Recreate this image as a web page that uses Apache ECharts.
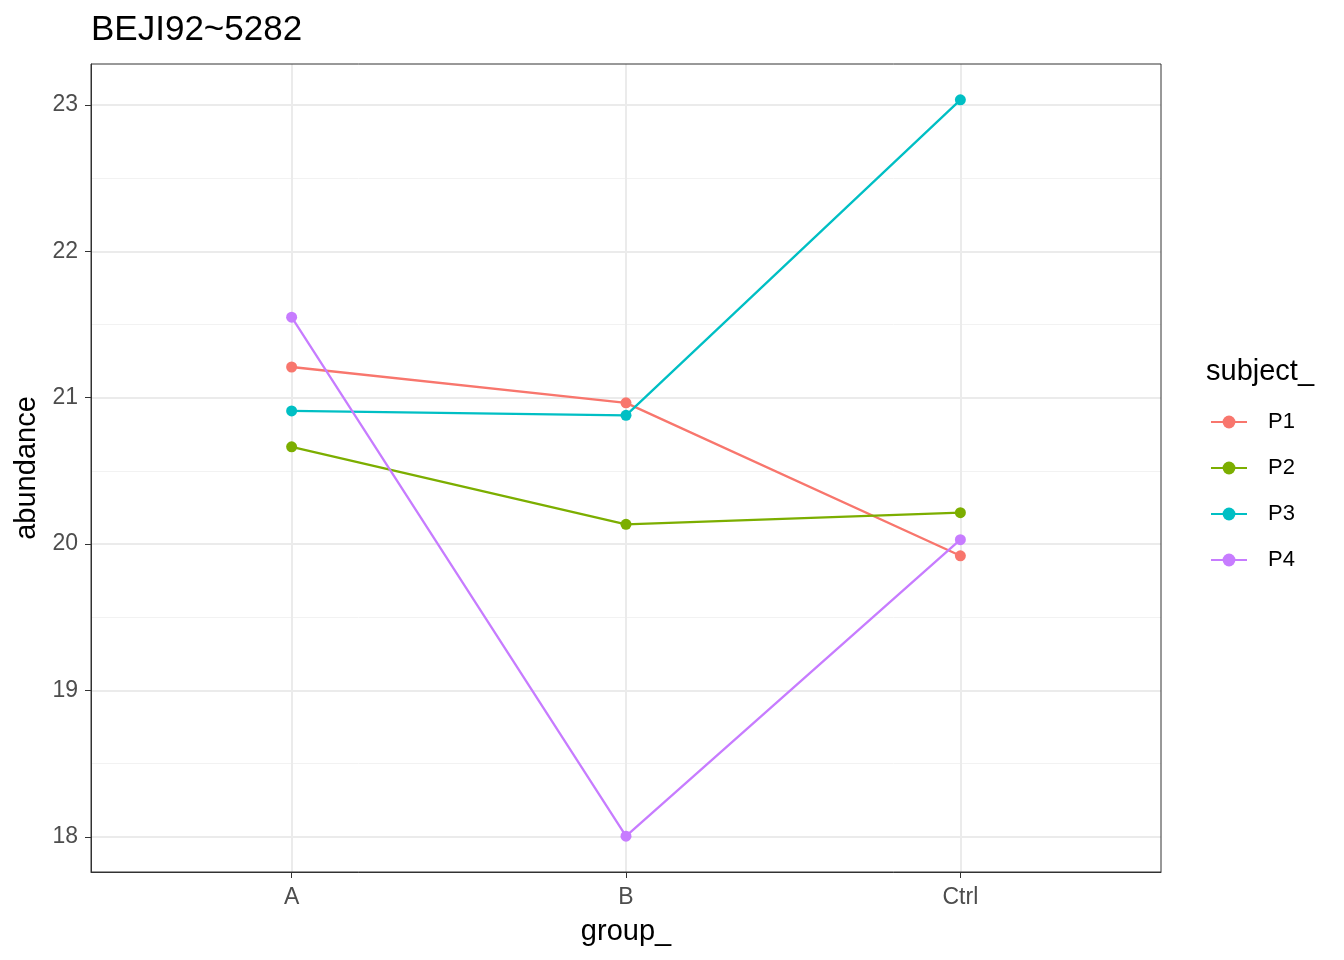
<!DOCTYPE html>
<html style="height: 100%">
<head>
  <meta charset="utf-8">
</head>
<body style="height: 100%; margin: 0; background: #fff">
  <div id="container" style="width: 1344px; height: 960px"></div>
  <script type="text/javascript" src="https://cdn.jsdelivr.net/npm/echarts/dist/echarts.min.js"></script>
  <script type="text/javascript">
    var groups = ['A', 'B', 'Ctrl'];
    var subjects = ['P1', 'P2', 'P3', 'P4'];
    var colors = ['#F8766D', '#7CAE00', '#00BFC4', '#C77CFF'];
    var p1 = [21.21, 20.965, 19.92];
    var p2 = [20.665, 20.135, 20.215];
    var p3 = [20.91, 20.88, 23.035];
    var p4 = [21.55, 18.005, 20.03];
    var yTicks = [18, 19, 20, 21, 22, 23];
    var yMinor = [18.5, 19.5, 20.5, 21.5, 22.5];

    var values = [p1, p2, p3, p4];
    var font = 'Liberation Sans, Arial, sans-serif';

    var myChart = echarts.init(document.getElementById('container'));

    var series = subjects.map(function (name, i) {
      return {
        name: name,
        type: 'line',
        data: values[i].map(function (v, j) { return [j, v]; }),
        symbol: 'circle',
        symbolSize: 11,
        lineStyle: { width: 2.3, color: colors[i] },
        itemStyle: { color: colors[i] },
        emphasis: { disabled: true },
        animation: false
      };
    });

    var option = {
      title: [{
        text: 'BEJI92~5282',
        left: 86,
        top: 8,
        textStyle: { fontFamily: font, fontSize: 35, fontWeight: 'normal', color: '#000' }
      }, {
        text: 'subject_',
        left: 1201,
        top: 352,
        textStyle: { fontFamily: font, fontSize: 29, fontWeight: 'normal', color: '#000' }
      }],
      legend: {
        orient: 'vertical',
        left: 1205,
        top: 406,
        itemWidth: 36,
        itemHeight: 16,
        itemGap: 24,
        data: subjects,
        textStyle: { fontFamily: font, fontSize: 22, color: '#000', padding: [0, 0, 0, 16] }
      },
      grid: { left: 91, top: 64, right: 183, bottom: 88, containLabel: false },
      xAxis: {
        type: 'value',
        min: -0.6,
        max: 2.6,
        name: 'group_',
        nameLocation: 'middle',
        nameGap: 45,
        nameTextStyle: { fontFamily: font, fontSize: 29, color: '#000' },
        axisLine: { show: true, onZero: false, lineStyle: { color: '#333', width: 1 } },
        axisTick: { show: true, length: 6, customValues: [0, 1, 2], lineStyle: { color: '#333', width: 1 } },
        axisLabel: {
          customValues: [0, 1, 2],
          margin: 14,
          fontFamily: font, fontSize: 23, color: '#4D4D4D',
          formatter: function (v) { return groups[Math.round(v)]; }
        },
        splitLine: { show: true, lineStyle: { color: '#EBEBEB', width: 2 } }
      },
      yAxis: [{
        type: 'value',
        min: 17.76,
        max: 23.28,
        name: 'abundance',
        nameLocation: 'middle',
        nameGap: 49,
        nameTextStyle: { fontFamily: font, fontSize: 29, color: '#000' },
        axisLine: { show: true, onZero: false, lineStyle: { color: '#333', width: 1 } },
        axisTick: { show: true, length: 6, customValues: yTicks, lineStyle: { color: '#333', width: 1 } },
        axisLabel: { customValues: yTicks, margin: 13, fontFamily: font, fontSize: 23, color: '#4D4D4D' },
        splitLine: { show: true, lineStyle: { color: '#EBEBEB', width: 2 } },
        z: 1
      }, {
        type: 'value',
        min: 17.76,
        max: 23.28,
        position: 'left',
        axisLine: { show: false },
        axisTick: { show: false, customValues: yMinor },
        axisLabel: { show: false, customValues: yMinor },
        splitLine: { show: true, lineStyle: { color: '#F2F2F2', width: 1 } },
        z: 0
      }],
      graphic: [{
        type: 'rect',
        shape: { x: 91, y: 64, width: 1070, height: 808 },
        style: { fill: 'none', stroke: '#333', lineWidth: 1 },
        z: 100,
        silent: true
      }],
      series: series
    };

    myChart.setOption(option);
  </script>
</body>
</html>
